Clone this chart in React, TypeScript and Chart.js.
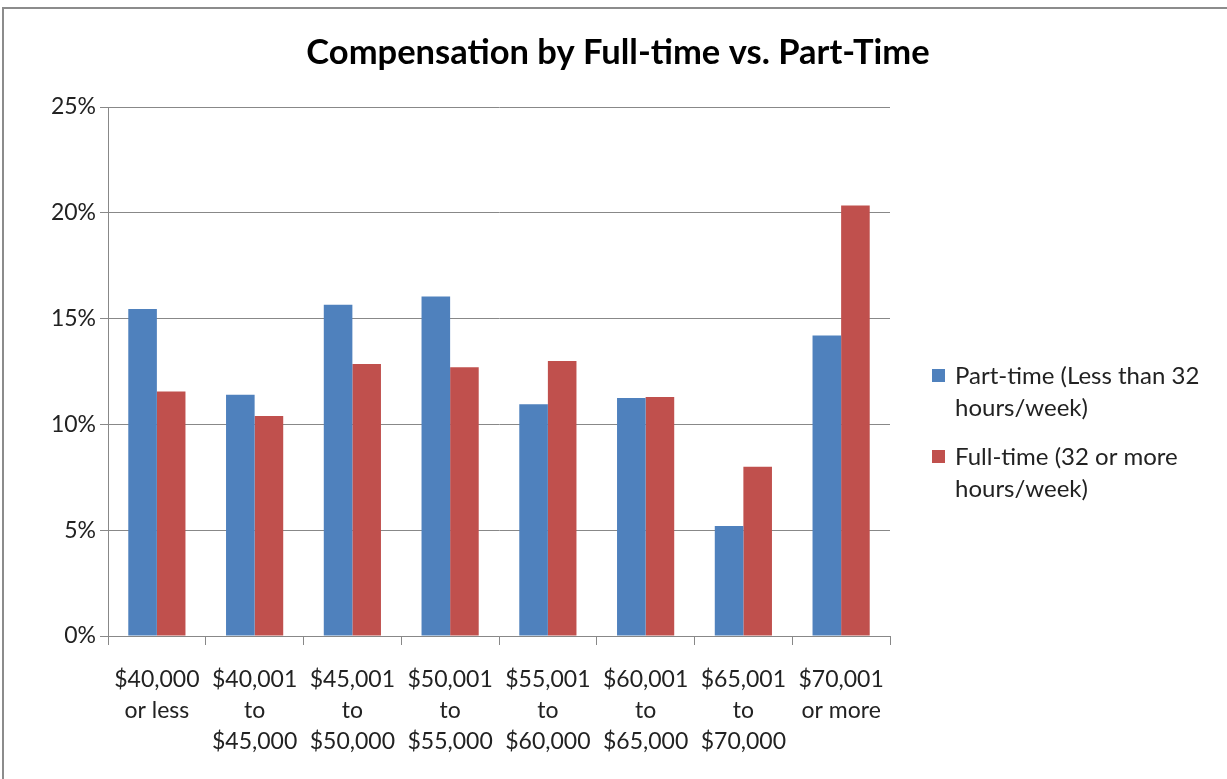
import React, { useEffect, useRef } from "react";
import { Chart, registerables } from "chart.js";

Chart.register(...registerables);

const categories: string[][] = [
  ["$40,000", "or less"],
  ["$40,001", "to", "$45,000"],
  ["$45,001", "to", "$50,000"],
  ["$50,001", "to", "$55,000"],
  ["$55,001", "to", "$60,000"],
  ["$60,001", "to", "$65,000"],
  ["$65,001", "to", "$70,000"],
  ["$70,001", "or more"],
];
const partTime = [15.45, 11.4, 15.65, 16.05, 10.95, 11.25, 5.2, 14.2];
const fullTime = [11.55, 10.4, 12.85, 12.7, 13.0, 11.3, 8.0, 20.35];
const seriesLabels = ["Part-time (Less than 32 hours/week)", "Full-time (32 or more hours/week)"];
const legendLines: string[][] = [
  ["Part-time (Less than 32", "hours/week)"],
  ["Full-time (32 or more", "hours/week)"],
];
const titleText = "Compensation by Full-time vs. Part-Time";
const colors = ["#4F81BD", "#C0504D"];
const FONT = "Lato, 'Open Sans', sans-serif";

export default function App() {
  const ref = useRef<HTMLCanvasElement | null>(null);
  useEffect(() => {
    const canvas = ref.current!;
    const framePlugin = {
      id: "frame",
      beforeDraw(chart: any) {
        const c = chart.ctx;
        c.save();
        c.fillStyle = "#fff";
        c.fillRect(0, 0, chart.width, chart.height);
        c.strokeStyle = "#8c8c8c";
        c.lineWidth = 2;
        c.strokeRect(3, 8, chart.width + 10, chart.height + 10);
        c.restore();
      },
      afterDraw(chart: any) {
        const c = chart.ctx;
        c.save();
        c.fillStyle = "#000";
        c.font = `bold 34.5px ${FONT}`;
        c.textAlign = "center";
        c.textBaseline = "middle";
        c.fillText(titleText, 618, 53);
        c.textAlign = "left";
        c.font = `24px ${FONT}`;
        const tops = [376, 457];
        legendLines.forEach((lines, i) => {
          const y = tops[i];
          c.fillStyle = colors[i];
          c.fillRect(932, y - 7, 13, 13);
          c.fillStyle = "#222";
          lines.forEach((ln, j) => c.fillText(ln, 955, y + j * 32));
        });
        c.restore();
      },
    };
    const chart = new Chart(canvas, {
      type: "bar",
      data: {
        labels: categories,
        datasets: [
          { label: seriesLabels[0], data: partTime, backgroundColor: colors[0] },
          { label: seriesLabels[1], data: fullTime, backgroundColor: colors[1] },
        ],
      },
      options: {
        responsive: false,
        animation: false,
        layout: { padding: { left: 0, right: 337, top: 107, bottom: 0 } },
        datasets: { bar: { categoryPercentage: 0.585, barPercentage: 1 } },
        plugins: {
          legend: { display: false },
          tooltip: { enabled: false },
          title: { display: false },
        },
        scales: {
          x: {
            grid: { offset: true, drawOnChartArea: false, tickLength: 9, color: "#888", lineWidth: 1 },
            border: { color: "#888" },
            ticks: { color: "#222", font: { family: FONT, size: 23, lineHeight: 1.35 }, padding: 19, maxRotation: 0, autoSkip: false },
            afterFit(scale: any) { scale.height = 143; },
          },
          y: {
            min: 0,
            max: 25,
            ticks: { stepSize: 5, color: "#222", font: { family: FONT, size: 23 }, padding: 4, callback: (v: any) => `${v}%` },
            grid: { color: "#888", tickLength: 8, lineWidth: 1 },
            border: { color: "#888" },
            afterFit(scale: any) { scale.width = 108; },
          },
        },
      },
      plugins: [framePlugin],
    } as any);
    return () => chart.destroy();
  }, []);
  return (
    <div style={{ position: "absolute", left: 0, top: 0, width: 1227, height: 779 }}>
      <canvas ref={ref} width={1227} height={779} />
    </div>
  );
}
